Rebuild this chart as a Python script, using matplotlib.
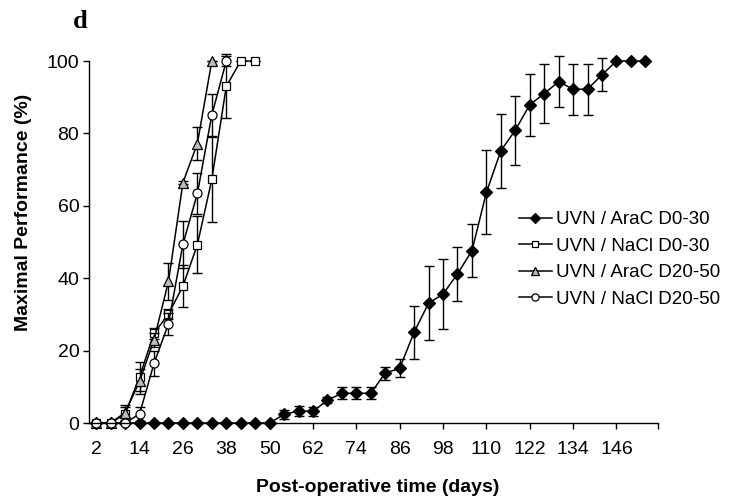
import matplotlib
matplotlib.use("Agg")
import matplotlib.pyplot as plt

# giorni post-operatori (un punto ogni 4 giorni)
giorni_arac_d0 = list(range(2, 155, 4))
giorni_nacl_d0 = list(range(2, 47, 4))
giorni_arac_d20 = list(range(2, 35, 4))
giorni_nacl_d20 = list(range(2, 39, 4))

# UVN / AraC D0-30
arac_d0 = [0, 0, 0, 0, 0, 0, 0, 0, 0, 0, 0, 0, 0,
           2.4, 3.3, 3.2, 6.3, 8.2, 8.2, 8.2, 13.8, 15.1, 25.1, 33.1, 35.6, 41.2, 47.6,
           63.7, 75.2, 80.9, 87.9, 91.0, 94.3, 92.2, 92.2, 96.2, 100, 100, 100]
arac_d0_err = [0, 0, 0, 0, 0, 0, 0, 0, 0, 0, 0, 0, 0,
               1.3, 1.3, 1.3, 0.8, 1.7, 1.7, 1.7, 1.8, 2.5, 7.3, 10.3, 9.6, 7.5, 7.3,
               11.6, 10.2, 9.5, 8.6, 8.2, 7.1, 7.0, 7.0, 4.6, 0, 0, 0]

# UVN / NaCl D0-30
nacl_d0 = [0, 0, 2.5, 12.8, 24.8, 30.1, 37.8, 49.3, 67.3, 93.0, 100, 100]
nacl_d0_err = [0, 0, 2.0, 4.0, 1.5, 1.5, 5.8, 8.0, 11.8, 8.8, 0, 0]

# UVN / AraC D20-50
arac_d20 = [0, 0, 2.9, 11.5, 23.0, 39.1, 66.4, 77.2, 100]
arac_d20_err = [0, 0, 2.0, 3.5, 2.0, 5.2, 0.5, 4.5, 0]

# UVN / NaCl D20-50
nacl_d20 = [0, 0, 0, 2.5, 16.5, 27.4, 49.4, 63.4, 85.1, 100]
nacl_d20_err = [0, 0, 0, 2.0, 3.5, 3.1, 6.5, 5.7, 5.7, 1.5]

etichette_x = list(range(2, 147, 12))
etichette_y = [0, 20, 40, 60, 80, 100]

plt.rcParams['font.family'] = ['Liberation Sans', 'DejaVu Sans']

fig = plt.figure(figsize=(7.47, 4.98), dpi=100)
ax = fig.add_axes([89 / 747, 1 - 423 / 498, 569 / 747, 362 / 498])

serie = [
    (giorni_arac_d0, arac_d0, arac_d0_err, 'D', 'black', 6, "UVN / AraC D0-30"),
    (giorni_nacl_d0, nacl_d0, nacl_d0_err, 's', 'white', 6, "UVN / NaCl D0-30"),
    (giorni_arac_d20, arac_d20, arac_d20_err, '^', '#bbbbbb', 6.5, "UVN / AraC D20-50"),
    (giorni_nacl_d20, nacl_d20, nacl_d20_err, 'o', 'white', 6.5, "UVN / NaCl D20-50"),
]

linee = []
for x, y, err, marker, colore, ms, nome in serie:
    ax.errorbar(x, y, yerr=err, fmt='none', ecolor='black', elinewidth=1,
                capsize=3.5, capthick=1, clip_on=False)
    l, = ax.plot(x, y, color='black', lw=1.1, marker=marker, markersize=ms,
                 markerfacecolor=colore, markeredgecolor='black', markeredgewidth=0.9,
                 label=nome, clip_on=False)
    linee.append(l)

ax.set_xlim(0, 157.5)
ax.set_ylim(0, 100)
ax.set_xticks(etichette_x)
ax.set_xticks([157.5], minor=True)  # tacca a fine asse
ax.set_yticks(etichette_y)
ax.tick_params(axis='x', which='both', direction='out', length=4, width=1, pad=9, labelsize=14)
ax.tick_params(axis='y', direction='out', length=4, width=1, pad=3, labelsize=14)

ax.spines['top'].set_visible(False)
ax.spines['right'].set_visible(False)
ax.spines['left'].set_linewidth(1)
ax.spines['bottom'].set_linewidth(1)

fig.text(378 / 747, 1 - 487 / 498, "Post-operative time (days)", fontsize=14,
         fontweight='bold', ha='center', va='center')
fig.text(24 / 747, 1 - 212 / 498, "Maximal Performance (%)", fontsize=14,
         fontweight='bold', ha='center', va='center', rotation=90)

# lettera del pannello
fig.text(80 / 747, 1 - 22 / 498, "d", fontsize=19, fontweight='bold',
         family='Liberation Serif', ha='center', va='center')

ax.legend(handles=linee, loc='upper left', bbox_to_anchor=(519 / 747, 1 - 211 / 498),
          bbox_transform=fig.transFigure, frameon=False, fontsize=13.5,
          borderpad=0, borderaxespad=0, handlelength=1.75, handletextpad=0.2,
          labelspacing=0.5, markerscale=0.8)

fig.savefig("out.png", dpi=100)
